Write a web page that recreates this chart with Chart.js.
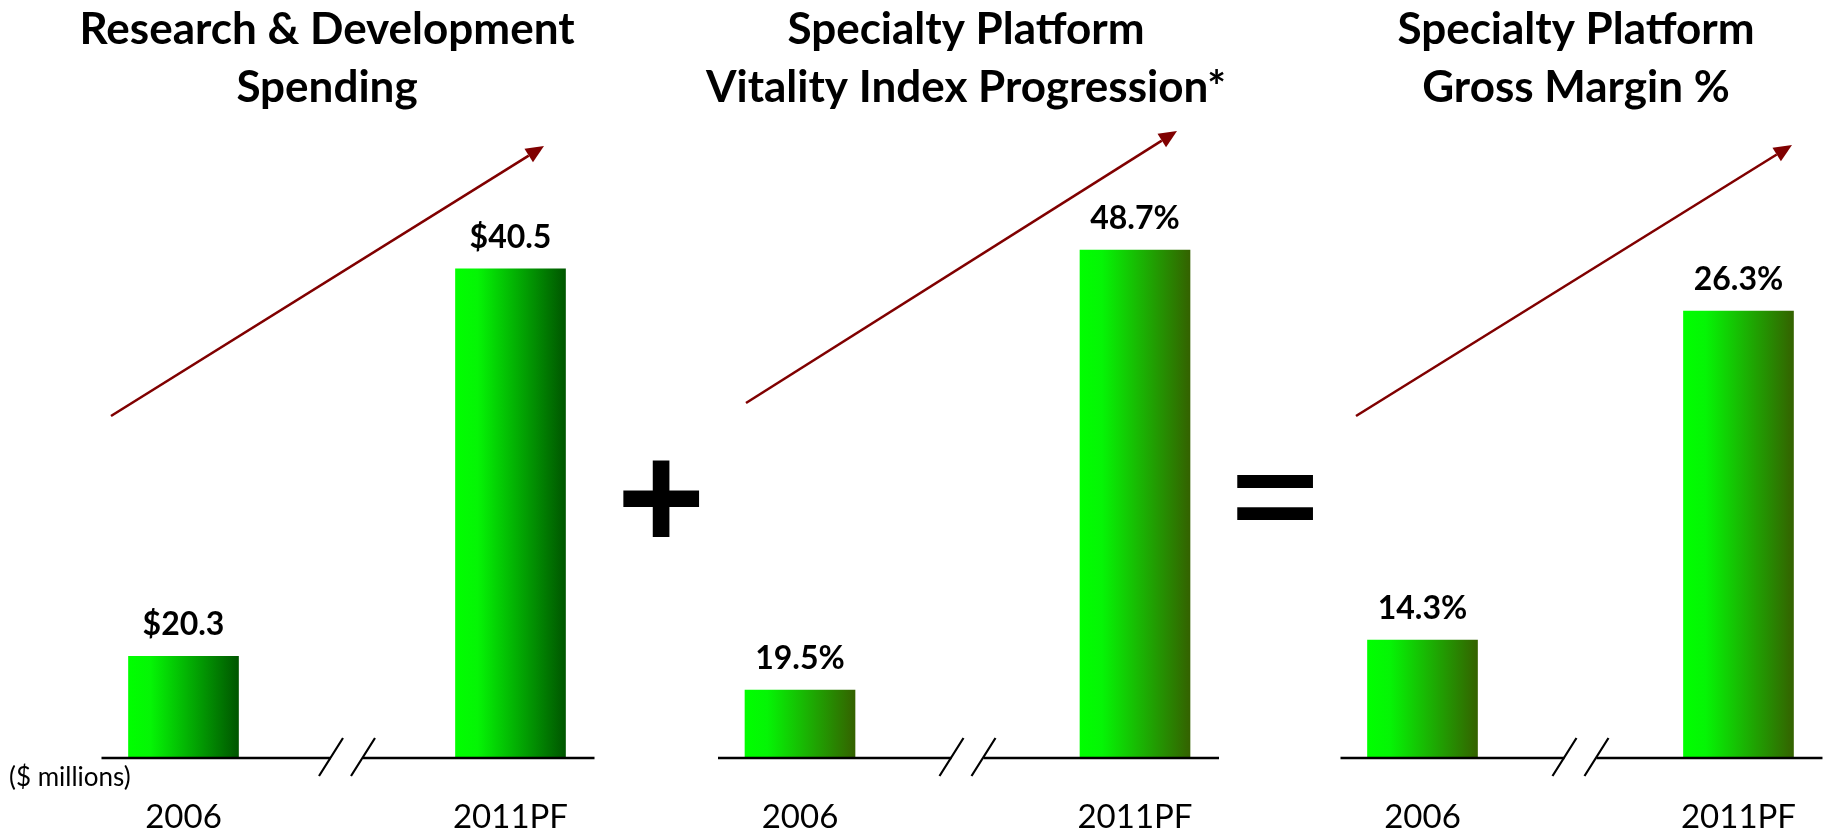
<!DOCTYPE html>
<html><head><meta charset="utf-8">
<script src="https://cdn.jsdelivr.net/npm/chart.js@4.4.1/dist/chart.umd.min.js"></script>
<style>
html,body{margin:0;padding:0;background:#fff;overflow:hidden}
#wrap{position:relative;width:1836px;height:834px;background:#fff}
#wrap canvas{position:absolute;left:0;top:0}
</style></head><body><div id="wrap">
<canvas id="c1" width="1836" height="834"></canvas>
<canvas id="c2" width="1836" height="834"></canvas>
<canvas id="c3" width="1836" height="834"></canvas>
</div>
<script>
// ---- data ----
const categories = ['2006', '2011PF'];
const rdValues = [20.3, 40.5];
const rdLabels = ['$20.3', '$40.5'];
const vitalityValues = [19.5, 48.7];
const vitalityLabels = ['19.5%', '48.7%'];
const marginValues = [14.3, 26.3];
const marginLabels = ['14.3%', '26.3%'];
const rdTitle = ['Research & Development', 'Spending'];
const vitalityTitle = ['Specialty Platform', 'Vitality Index Progression*'];
const marginTitle = ['Specialty Platform', 'Gross Margin %'];
const unitNote = '($ millions)';
const operators = ['+', '='];

// ---- layout / style ----
const panels = [
  {id:'c1', values: rdValues, labels: rdLabels, title: rdTitle, yMin:15, yMax:49.3,
   left:183.5, right:510.5, dark:'rgb(0,86,0)', titleX:327, arrow:[111,416,544,146], note:true},
  {id:'c2', values: vitalityValues, labels: vitalityLabels, title: vitalityTitle, yMin:15, yMax:58.66,
   left:800, right:1135, dark:'rgb(52,98,0)', titleX:966, arrow:[746,403,1177,131]},
  {id:'c3', values: marginValues, labels: marginLabels, title: marginTitle, yMin:10, yMax:34,
   left:1422.5, right:1759.5, dark:'rgb(52,98,0)', titleX:1576, arrow:[1356,416,1792,145]}
];
const BAR_W = 110;
const AREA_TOP = 100;
const AXIS_H = 76;

function drawArrow(ctx, x1, y1, x2, y2) {
  const ang = Math.atan2(y2 - y1, x2 - x1);
  const hl = 18, hw = 8;
  const bx = x2 - hl * Math.cos(ang), by = y2 - hl * Math.sin(ang);
  ctx.save();
  ctx.strokeStyle = '#800000'; ctx.fillStyle = '#800000'; ctx.lineWidth = 2.6;
  ctx.beginPath(); ctx.moveTo(x1, y1); ctx.lineTo(bx, by); ctx.stroke();
  ctx.beginPath();
  ctx.moveTo(x2, y2);
  ctx.lineTo(bx + hw * Math.sin(ang), by - hw * Math.cos(ang));
  ctx.lineTo(bx - hw * Math.sin(ang), by + hw * Math.cos(ang));
  ctx.closePath(); ctx.fill();
  ctx.restore();
}

function drawGlyph(ctx, ch, cx, cy, targetW, targetH) {
  ctx.save();
  ctx.textAlign = 'left'; ctx.textBaseline = 'alphabetic';
  ctx.font = 'bold 100px "Liberation Sans"';
  let m = ctx.measureText(ch);
  const w = m.actualBoundingBoxRight + m.actualBoundingBoxLeft;
  const size = (w > 0) ? 100 * targetW / w : 130;
  ctx.font = 'bold ' + size.toFixed(1) + 'px "Liberation Sans"';
  m = ctx.measureText(ch);
  const h = m.actualBoundingBoxAscent + m.actualBoundingBoxDescent;
  const sy = (h > 0) ? targetH / h : 1;
  ctx.fillStyle = '#000';
  ctx.translate(cx, cy);
  ctx.scale(1, sy);
  const x = -(m.actualBoundingBoxRight - m.actualBoundingBoxLeft) / 2;
  const y = (m.actualBoundingBoxAscent - m.actualBoundingBoxDescent) / 2;
  ctx.fillText(ch, x, y);
  ctx.restore();
}

function makeChart(p, idx) {
  const deco = {
    id: 'deco' + idx,
    afterDatasetsDraw(chart) {
      const ctx = chart.ctx;
      const meta = chart.getDatasetMeta(0);
      ctx.save();
      ctx.fillStyle = '#000';
      ctx.font = 'bold 32px Lato';
      ctx.textAlign = 'center'; ctx.textBaseline = 'alphabetic';
      meta.data.forEach((el, i) => { ctx.fillText(p.labels[i], el.x, el.y - 21); });
      ctx.restore();
    },
    afterDraw(chart) {
      const ctx = chart.ctx;
      const xs = chart.scales.x, ys = chart.scales.y;
      const y0 = ys.getPixelForValue(p.yMin);
      const c0 = xs.getPixelForValue(0), c1 = xs.getPixelForValue(1);
      const mid = (c0 + c1) / 2;
      ctx.save();
      ctx.strokeStyle = '#000'; ctx.lineWidth = 2.6;
      ctx.beginPath();
      ctx.moveTo(c0 - 82, y0); ctx.lineTo(mid - 16, y0);
      ctx.moveTo(mid + 16, y0); ctx.lineTo(c1 + 84, y0);
      ctx.stroke();
      ctx.lineWidth = 2.2;
      ctx.beginPath();
      [-16, 16].forEach(d => {
        ctx.moveTo(mid + d - 12, y0 + 18); ctx.lineTo(mid + d + 12, y0 - 20);
      });
      ctx.stroke();
      ctx.fillStyle = '#000';
      ctx.font = 'bold 44px Lato';
      ctx.textAlign = 'center'; ctx.textBaseline = 'alphabetic';
      ctx.fillText(p.title[0], p.titleX, 44);
      ctx.fillText(p.title[1], p.titleX, 102);
      drawArrow(ctx, p.arrow[0], p.arrow[1], p.arrow[2], p.arrow[3]);
      if (p.note) {
        ctx.font = '26px Lato';
        ctx.textAlign = 'left'; ctx.textBaseline = 'middle';
        ctx.fillText(unitNote, 9, 778);
        drawGlyph(ctx, operators[0], 661.5, 498, 77, 77);
        drawGlyph(ctx, operators[1], 1275, 498, 77, 45);
      }
      ctx.restore();
    }
  };
  return new Chart(document.getElementById(p.id), {
    type: 'bar',
    data: {
      labels: categories,
      datasets: [{
        data: p.values,
        base: p.yMin,
        barThickness: BAR_W,
        clip: false,
        borderWidth: 0,
        backgroundColor: (c) => {
          const chart = c.chart;
          const xs = chart.scales && chart.scales.x;
          if (c.type !== 'data' || !xs) return '#00ff00';
          const cx = xs.getPixelForValue(c.dataIndex);
          if (!isFinite(cx)) return '#00ff00';
          const g = chart.ctx.createLinearGradient(cx - BAR_W / 2, 0, cx + BAR_W / 2, 0);
          g.addColorStop(0, '#00ff00');
          g.addColorStop(0.2, '#05f505');
          g.addColorStop(1, p.dark);
          return g;
        }
      }]
    },
    options: {
      responsive: false,
      animation: false,
      devicePixelRatio: 1,
      events: [],
      layout: { padding: { left: p.left, right: 1836 - p.right, top: AREA_TOP, bottom: 0 } },
      plugins: { legend: { display: false }, title: { display: false }, tooltip: { enabled: false } },
      scales: {
        x: {
          type: 'category', offset: false,
          grid: { display: false, drawTicks: false },
          border: { display: false },
          ticks: { color: '#000', font: { family: 'Lato', size: 33 }, padding: 40, maxRotation: 0, autoSkip: false },
          afterFit: (s) => { s.height = AXIS_H; }
        },
        y: { display: false, min: p.yMin, max: p.yMax }
      }
    },
    plugins: [deco]
  });
}
panels.forEach(makeChart);
</script>
</body></html>
